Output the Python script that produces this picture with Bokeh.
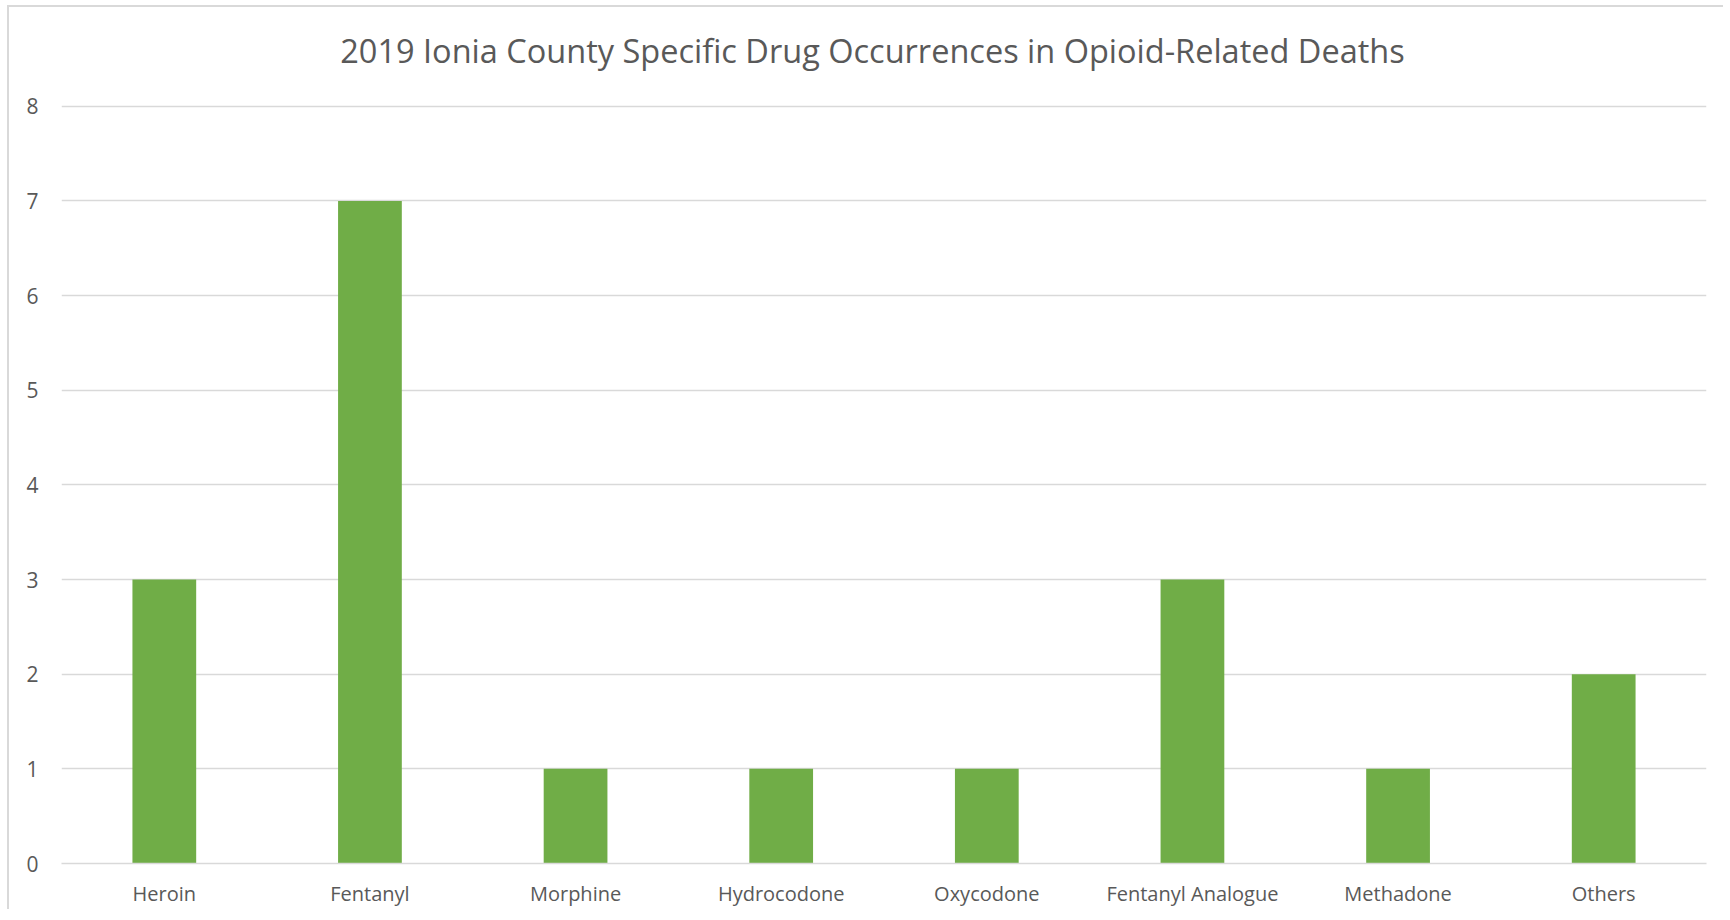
from bokeh.plotting import figure
from bokeh.models import Range1d, FactorRange, Label
from bokeh.embed import file_html
from bokeh.resources import INLINE

categories = ["Heroin", "Fentanyl", "Morphine", "Hydrocodone", "Oxycodone",
              "Fentanyl Analogue", "Methadone", "Others"]
counts = [3, 7, 1, 1, 1, 3, 1, 2]
y_ticks = [0, 1, 2, 3, 4, 5, 6, 7, 8]
title_text = "2019 Ionia County Specific Drug Occurrences in Opioid-Related Deaths"

FONT = "Open Sans"
TXT = "#595959"
GRID = "#D9D9D9"

p = figure(x_range=FactorRange(*categories, range_padding=0), y_range=Range1d(0, 9.044),
           width=1716, height=904, output_backend="svg", toolbar_location=None,
           min_border_left=52, min_border_right=19, min_border_top=0, min_border_bottom=48)
p.vbar(x=categories, top=counts, width=0.31, color="#70AD47", line_color=None)

title = Label(x=3.944, y=8.586, text=title_text, text_align="center",
              text_baseline="middle", text_font=FONT, text_font_size="32.5px",
              text_color=TXT)
p.add_layout(title)

p.outline_line_color = None
p.background_fill_color = "white"
p.border_fill_color = "white"
p.styles = {"border-top": "2px solid #D9D9D9", "border-left": "2px solid #D9D9D9",
            "box-sizing": "border-box", "margin-left": "7px", "margin-top": "5px"}

p.xgrid.grid_line_color = None
p.ygrid.grid_line_color = GRID
p.ygrid.grid_line_width = 1.5
p.yaxis.ticker = y_ticks

p.yaxis.axis_line_color = None
p.yaxis.major_tick_line_color = None
p.yaxis.minor_tick_line_color = None
p.yaxis.major_tick_out = 0
p.yaxis.major_tick_in = 0
p.yaxis.major_label_standoff = 23
p.yaxis.major_label_text_font = FONT
p.yaxis.major_label_text_font_size = "21px"
p.yaxis.major_label_text_color = TXT

p.xaxis.axis_line_color = GRID
p.xaxis.axis_line_width = 1.5
p.xaxis.major_tick_line_color = None
p.xaxis.minor_tick_line_color = None
p.xaxis.major_tick_out = 0
p.xaxis.major_tick_in = 0
p.xaxis.major_label_standoff = 16
p.xaxis.major_label_text_font = FONT
p.xaxis.major_label_text_font_size = "20px"
p.xaxis.major_label_text_color = TXT

open("out.html", "w").write(file_html(p, INLINE))
